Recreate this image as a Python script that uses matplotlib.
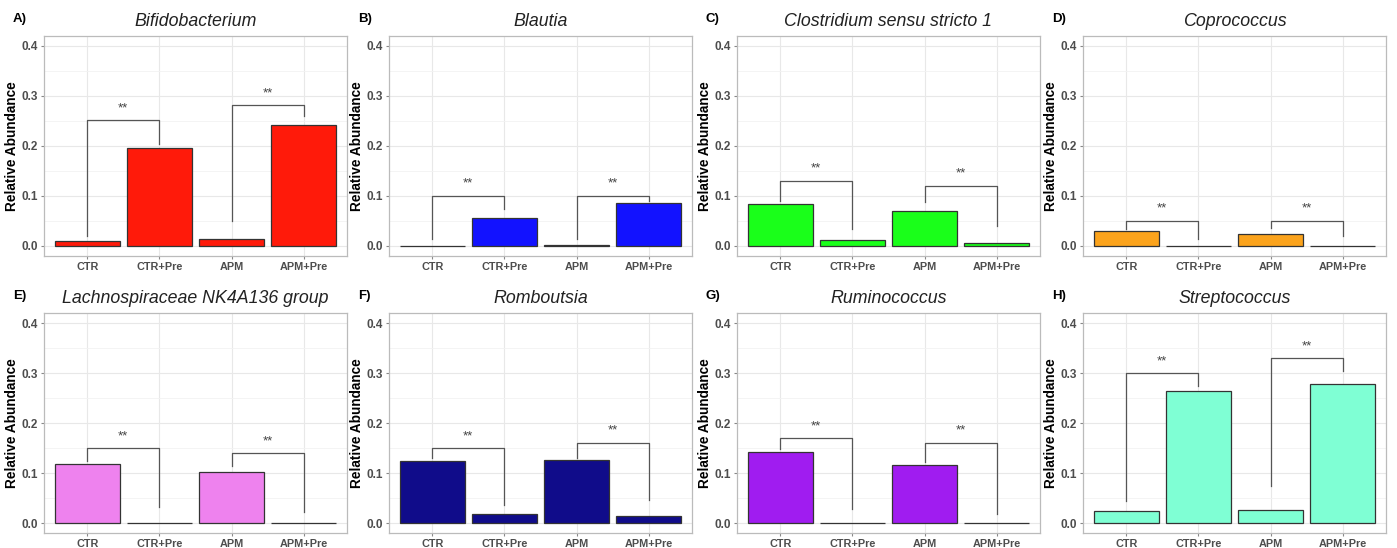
import matplotlib.pyplot as plt
import matplotlib.ticker as mticker

plt.rcParams['font.family'] = ['Liberation Sans', 'DejaVu Sans']

groups = ['CTR', 'CTR+Pre', 'APM', 'APM+Pre']
labels = ['A)', 'B)', 'C)', 'D)', 'E)', 'F)', 'G)', 'H)']
genera = ['Bifidobacterium', 'Blautia', 'Clostridium sensu stricto 1', 'Coprococcus',
          'Lachnospiraceae NK4A136 group', 'Romboutsia', 'Ruminococcus', 'Streptococcus']
colors = ['#FF1A0A', '#1212FF', '#1AFF1A', '#FBA31C',
          '#EE82EE', '#100C8A', '#A01CF0', '#7FFFD4']

# mean relative abundance per group
bifido = [0.0105, 0.197, 0.0133, 0.241]
blautia = [0.001, 0.056, 0.002, 0.086]
clostridium = [0.085, 0.0126, 0.070, 0.006]
coprococcus = [0.030, 0.001, 0.025, 0.001]
lachno = [0.118, 0.001, 0.103, 0.001]
romboutsia = [0.125, 0.019, 0.127, 0.015]
rumino = [0.142, 0.001, 0.116, 0.001]
strepto = [0.024, 0.264, 0.026, 0.279]
abundances = [bifido, blautia, clostridium, coprococcus, lachno, romboutsia, rumino, strepto]

# significance brackets: (bar height, left tip end, right tip end) for CTR vs CTR+Pre and APM vs APM+Pre
brackets = [
    [(0.252, 0.020, 0.205), (0.281, 0.050, 0.259)],
    [(0.101, 0.015, 0.074), (0.101, 0.015, 0.091)],
    [(0.131, 0.090, 0.035), (0.121, 0.088, 0.040)],
    [(0.051, 0.035, 0.015), (0.051, 0.036, 0.020)],
    [(0.150, 0.125, 0.032), (0.140, 0.115, 0.022)],
    [(0.150, 0.131, 0.036), (0.161, 0.131, 0.047)],
    [(0.170, 0.148, 0.029), (0.161, 0.123, 0.019)],
    [(0.300, 0.045, 0.274), (0.330, 0.074, 0.304)],
]
pairs = [(1, 2), (3, 4)]

W, H = 1397, 548
fig = plt.figure(figsize=(W / 100, H / 100), dpi=100)

col_left = [44, 389, 737, 1083]
row_top = [36, 313]
ax_w, ax_h = 303, 220

x = [1, 2, 3, 4]
for i in range(8):
    r, c = divmod(i, 4)
    left = col_left[c]
    top = row_top[r]
    ax = fig.add_axes([left / W, 1 - (top + ax_h) / H, ax_w / W, ax_h / H])
    ax.set_axisbelow(True)
    ax.bar(x, abundances[i], width=0.9, color=colors[i], edgecolor='#333333', linewidth=0.9, zorder=2)

    for (a, b), (top_y, lo_a, lo_b) in zip(pairs, brackets[i]):
        ax.plot([a, a, b, b], [lo_a, top_y, top_y, lo_b], color='#555555', linewidth=0.9, zorder=3)
        ax.text((a + b) / 2, top_y + 0.012, '**', ha='center', va='bottom',
                fontsize=9.5, color='#444444')

    ax.set_xlim(0.4, 4.6)
    ax.set_ylim(-0.02, 0.42)
    ax.set_xticks(x)
    ax.set_xticklabels(groups, fontsize=7.8, fontweight='bold', color='#4D4D4D')
    ax.yaxis.set_major_locator(mticker.MultipleLocator(0.1))
    ax.yaxis.set_minor_locator(mticker.MultipleLocator(0.05))
    ax.yaxis.set_major_formatter(mticker.FormatStrFormatter('%.1f'))
    ax.tick_params(axis='y', labelsize=8.5, labelcolor='#4D4D4D', length=2.5, color='#888888', pad=2)
    ax.tick_params(axis='y', which='minor', length=0)
    ax.tick_params(axis='x', length=2.5, color='#888888', pad=1.5)
    for lbl in ax.get_yticklabels():
        lbl.set_fontweight('bold')
    ax.grid(True, which='major', color='#E8E8E8', linewidth=0.8)
    ax.grid(True, which='minor', axis='y', color='#F2F2F2', linewidth=0.6)
    for s in ax.spines.values():
        s.set_color('#BBBBBB')
        s.set_linewidth(0.9)

    ax.set_ylabel('Relative Abundance', fontsize=9.8, fontweight='bold', labelpad=1.5)
    ax.set_title(genera[i], fontsize=12.8, fontstyle='italic', pad=7, color='#222222')
    fig.text((left - 31) / W, 1 - (top - 17) / H, labels[i], fontsize=9.5,
             fontweight='bold', ha='left', va='center')

fig.savefig('out.png', dpi=100)
